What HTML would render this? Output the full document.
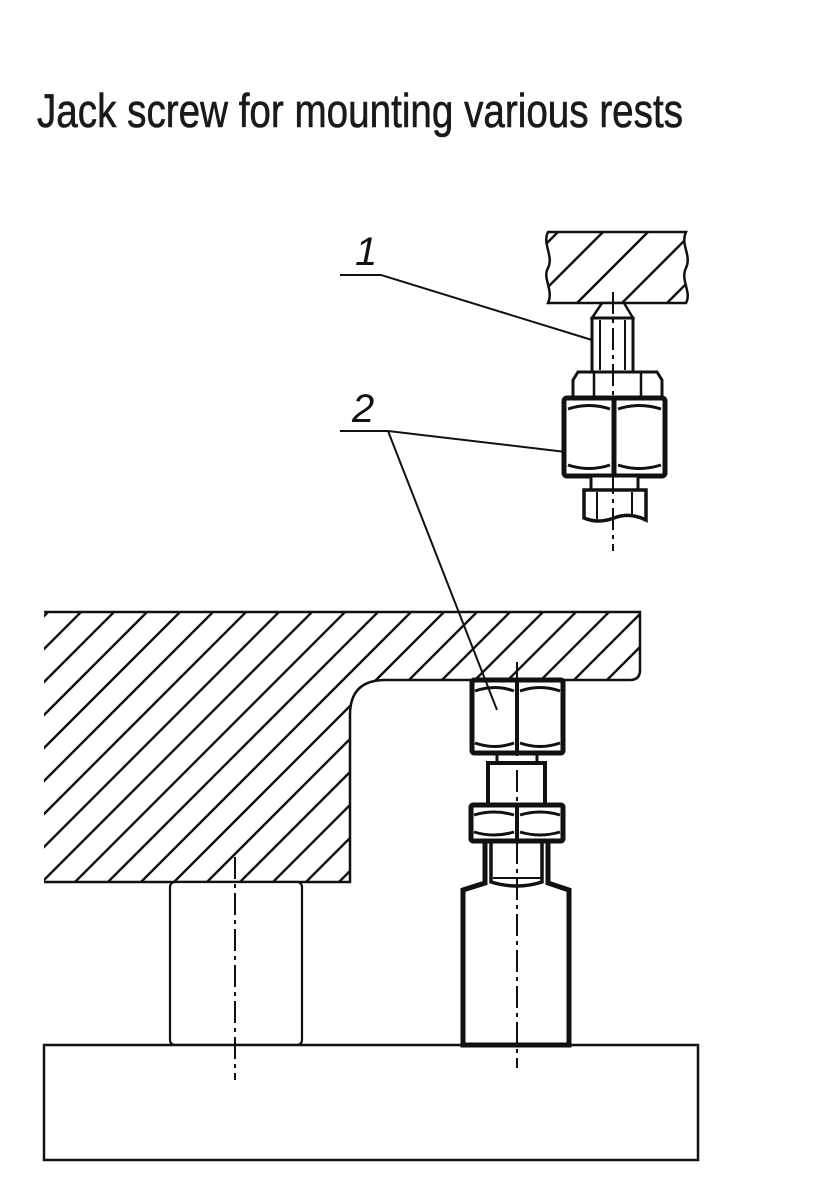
<!DOCTYPE html>
<html><head><meta charset="utf-8"><style>
html,body{margin:0;padding:0;background:#fff;}
svg{display:block;}
</style></head><body>
<svg width="825" height="1200" viewBox="0 0 825 1200" xmlns="http://www.w3.org/2000/svg">
<defs>
<clipPath id="cp"><path d="M44,612 L640,612 L640,670 Q640,680 630,680 L385,680 Q350,680 350,715 L350,882 L44,882 Z"/></clipPath>
<clipPath id="ct"><path d="M548,232 L686,232 C680,245 692,255 686,268 C680,280 692,292 686,303 L548,303 C554,290 542,278 548,268 C554,256 542,244 548,232 Z"/></clipPath>
</defs>
<text x="37" y="127" font-family="Liberation Sans, sans-serif" font-size="47" fill="#1a1a1a" stroke="#1a1a1a" stroke-width="0.6" textLength="646" lengthAdjust="spacingAndGlyphs">Jack screw for mounting various rests</text>

<g clip-path="url(#ct)" stroke="#111" stroke-width="2.5">
<path d="M558,232 L487,303 M603,232 L532,303 M648,232 L577,303 M693,232 L622,303 M738,232 L667,303"/>
</g>
<path d="M548,232 L686,232 C680,245 692,255 686,268 C680,280 692,292 686,303 L548,303 C554,290 542,278 548,268 C554,256 542,244 548,232 Z" fill="none" stroke="#111" stroke-width="2.5"/>

<g clip-path="url(#cp)" stroke="#111" stroke-width="2.4">
<path d="M48,612L-222,882M81,612L-189,882M114,612L-156,882M147,612L-123,882M180,612L-90,882M213,612L-57,882M246,612L-24,882M279,612L9,882M312,612L42,882M345,612L75,882M378,612L108,882M411,612L141,882M444,612L174,882M477,612L207,882M510,612L240,882M543,612L273,882M576,612L306,882M609,612L339,882M642,612L372,882M675,612L405,882M708,612L438,882M741,612L471,882M774,612L504,882M807,612L537,882M840,612L570,882M873,612L603,882M906,612L636,882"/>
</g>
<path d="M44,612 L640,612 L640,670 Q640,680 630,680 L385,680 Q350,680 350,715 L350,882 L44,882" fill="none" stroke="#111" stroke-width="2.5"/>

<rect x="170" y="882" width="132" height="163" rx="5" fill="#fff" stroke="#111" stroke-width="2.2"/>
<rect x="44" y="1045" width="654" height="115" fill="#fff" stroke="#111" stroke-width="2.5"/>

<g fill="none" stroke="#111" stroke-linecap="butt">
<path d="M602,303 L613,303 L624,303 L633,318 L592,318 Z" fill="#fff" stroke-width="2.5"/>
<rect x="592" y="318" width="41" height="54" fill="#fff" stroke-width="3"/>
<line x1="600" y1="320" x2="600" y2="370" stroke-width="2"/>
<line x1="625" y1="320" x2="625" y2="370" stroke-width="2"/>
<path d="M578,372 L657,372 L662,380 L662,398 L573,398 L573,380 Z" fill="#fff" stroke-width="3"/>
<line x1="594" y1="372" x2="594" y2="398" stroke-width="2.5"/>
<line x1="641" y1="372" x2="641" y2="398" stroke-width="2.5"/>
<rect x="564" y="398" width="101" height="78" rx="3" fill="#fff" stroke-width="5"/>
<line x1="614" y1="398" x2="614" y2="476" stroke-width="5"/>
<path d="M568,409 Q589,402 610,409 M618,409 Q639,402 661,409 M568,465 Q589,472 610,465 M618,465 Q639,472 661,465" stroke-width="3"/>
<rect x="591" y="476" width="47" height="14" fill="#fff" stroke-width="3"/>
<path d="M584,490 L646,490 L646,520 Q630,512 614,518 Q598,524 584,518 Z" fill="#fff" stroke-width="3.5"/>
<line x1="597" y1="492" x2="597" y2="519" stroke-width="2"/>
<line x1="632" y1="492" x2="632" y2="515" stroke-width="2"/>
<line x1="613" y1="292" x2="613" y2="551" stroke-width="2" stroke-dasharray="22,5,4,5"/>

<path d="M485,840 L485,883 L463,890 L463,1045 L569,1045 L569,890 L548,883 L548,840" fill="#fff" stroke-width="5"/>
<path d="M491,842 L491,882 Q517,890 542,882 L542,842" stroke-width="3.5"/>
<line x1="493" y1="878" x2="541" y2="878" stroke-width="2"/>
<rect x="497" y="753" width="40" height="10" fill="#fff" stroke-width="3"/>
<rect x="488" y="763" width="57" height="42" fill="#fff" stroke-width="4"/>
<rect x="472" y="680" width="91" height="73" rx="2" fill="#fff" stroke-width="5"/>
<line x1="517" y1="680" x2="517" y2="753" stroke-width="4"/>
<path d="M475,691 Q495,684 514,691 M520,691 Q540,684 560,691 M475,743 Q495,750 514,743 M520,743 Q540,750 560,743" stroke-width="3"/>
<rect x="471" y="805" width="92" height="36" rx="2" fill="#fff" stroke-width="5"/>
<line x1="517" y1="805" x2="517" y2="841" stroke-width="4"/>
<path d="M474,815 Q494,809 514,815 M520,815 Q540,809 560,815 M474,832 Q494,838 514,832 M520,832 Q540,838 560,832" stroke-width="3"/>
<line x1="517" y1="662" x2="517" y2="1068" stroke-width="2" stroke-dasharray="22,5,4,5"/>
<line x1="235" y1="857" x2="235" y2="1080" stroke-width="2" stroke-dasharray="22,5,4,5"/>

<path d="M340,275 L381,275 L592,340" stroke-width="2"/>
<path d="M340,431 L388,431 L566,452" stroke-width="2"/>
<path d="M388,431 L497,710" stroke-width="2"/>
</g>
<text x="355" y="265" font-family="Liberation Sans, sans-serif" font-style="italic" font-size="40" fill="#111">1</text>
<text x="352" y="422" font-family="Liberation Sans, sans-serif" font-style="italic" font-size="40" fill="#111">2</text>
</svg>
</body></html>
